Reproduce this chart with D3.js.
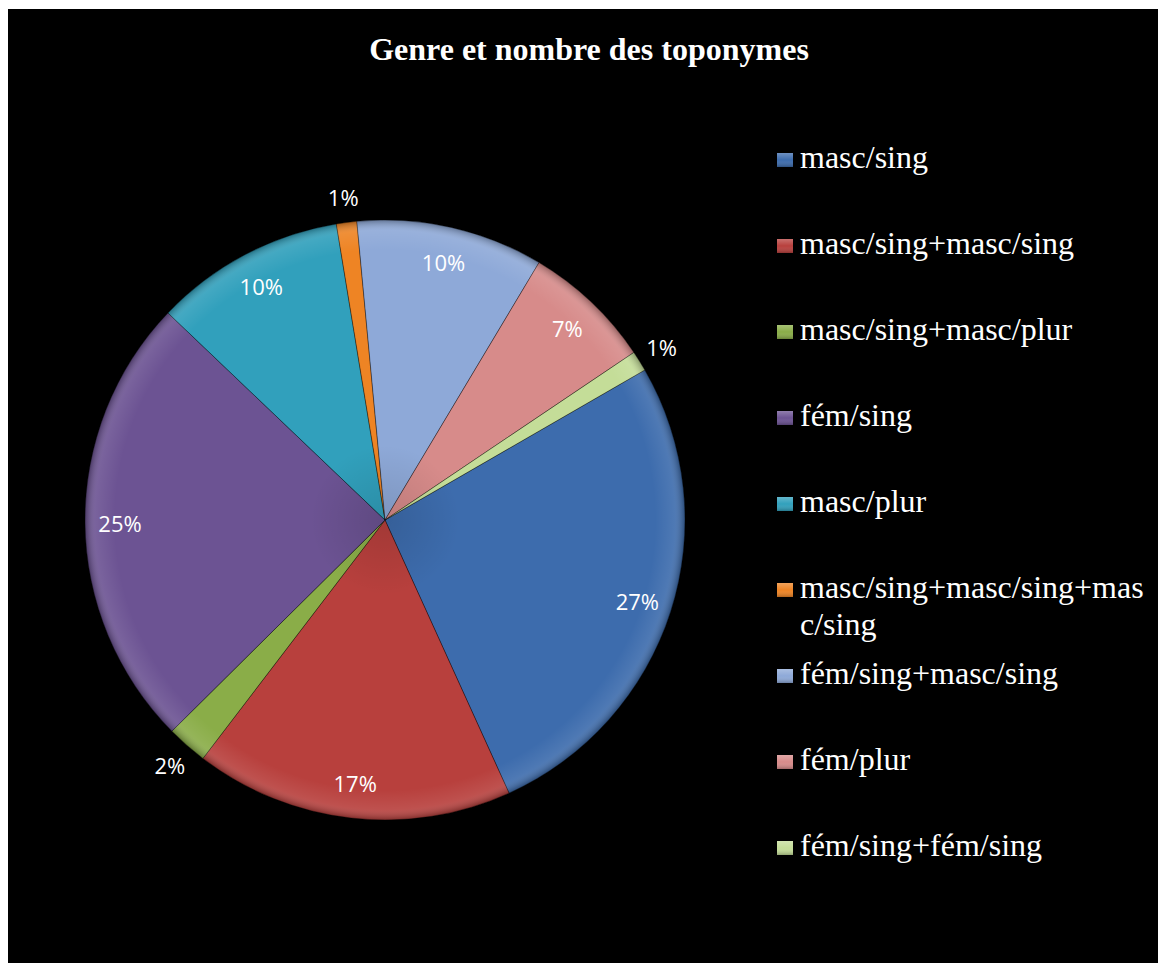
<!DOCTYPE html>
<html>
<head>
<meta charset="utf-8">
<script src="https://cdn.jsdelivr.net/npm/d3@7"></script>
<style>
  html, body { margin: 0; padding: 0; background: #ffffff; }
  svg { display: block; }
</style>
</head>
<body>
<script>
const title = "Genre et nombre des toponymes";
const categories = [
  "masc/sing",
  "masc/sing+masc/sing",
  "masc/sing+masc/plur",
  "fém/sing",
  "masc/plur",
  "masc/sing+masc/sing+masc/sing",
  "fém/sing+masc/sing",
  "fém/plur",
  "fém/sing+fém/sing"
];
const values = [26.6, 17.2, 2.2, 24.6, 10.3, 1.1, 10.1, 7.0, 1.1];
const colors = ["#3d6cad", "#b8403d", "#8aad48", "#6c5393", "#31a0bc", "#ee8424", "#8ea9d8", "#d78b8a", "#c4dd98"];
const legendLines = [
  ["masc/sing"],
  ["masc/sing+masc/sing"],
  ["masc/sing+masc/plur"],
  ["fém/sing"],
  ["masc/plur"],
  ["masc/sing+masc/sing+mas", "c/sing"],
  ["fém/sing+masc/sing"],
  ["fém/plur"],
  ["fém/sing+fém/sing"]
];

const W = 1158, H = 963;
const svg = d3.select("body").append("svg").attr("width", W).attr("height", H);
svg.append("rect").attr("x", 8).attr("y", 9).attr("width", W - 8).attr("height", H - 9).attr("fill", "#000");

svg.append("text").attr("x", 589).attr("y", 60).attr("text-anchor", "middle")
  .attr("font-family", "Liberation Serif, 'Times New Roman', serif").attr("font-weight", "bold")
  .attr("font-size", 32).attr("fill", "#fff").text(title);

const cx = 385, cy = 520, R = 300;
const defs = svg.append("defs");
const rl = defs.append("radialGradient").attr("id", "rimLocal").attr("gradientUnits", "userSpaceOnUse")
  .attr("cx", 0).attr("cy", 0).attr("r", R);
[[0, "#000", 0.12], [0.25, "#000", 0], [0.9, "#fff", 0], [0.965, "#fff", 0.09], [1, "#000", 0.3]]
  .forEach(s => rl.append("stop").attr("offset", s[0]).attr("stop-color", s[1]).attr("stop-opacity", s[2]));

const pie = d3.pie().value(d => d).sort(null)
  .startAngle(60 * Math.PI / 180).endAngle(60 * Math.PI / 180 + 2 * Math.PI);
const arcs = pie(values);
const arc = d3.arc().innerRadius(0).outerRadius(R);
const g = svg.append("g").attr("transform", `translate(${cx},${cy})`);
g.selectAll("path.slice").data(arcs).enter().append("path").attr("class", "slice")
  .attr("d", arc).attr("fill", (d, i) => colors[i])
  .attr("stroke", "rgba(0,0,0,0.35)").attr("stroke-width", 1);
g.selectAll("path.shade").data(arcs).enter().append("path").attr("class", "shade")
  .attr("d", arc).attr("fill", "url(#rimLocal)");

const total = d3.sum(values);
const labelFont = "'Open Sans', 'Noto Sans', sans-serif";
g.selectAll("text.lbl").data(arcs).enter().append("text").attr("class", "lbl")
  .each(function(d) {
    const pct = (d.data / total) * 100;
    const mid = (d.startAngle + d.endAngle) / 2;
    const r = pct < 3 ? 326 : 265;
    d3.select(this).attr("x", r * Math.sin(mid)).attr("y", -r * Math.cos(mid));
  })
  .attr("text-anchor", "middle").attr("dominant-baseline", "central")
  .attr("font-family", labelFont).attr("font-size", 22).attr("fill", "#fff")
  .text(d => Math.round(d.data / total * 100) + "%");

const legend = svg.append("g");
const lx = 777, ly0 = 168, lstep = 86;
const mg = defs.append("linearGradient").attr("id", "mk").attr("x1", 0).attr("y1", 0).attr("x2", 0).attr("y2", 1);
mg.append("stop").attr("offset", 0).attr("stop-color", "#fff").attr("stop-opacity", 0.25);
mg.append("stop").attr("offset", 0.5).attr("stop-color", "#fff").attr("stop-opacity", 0);
mg.append("stop").attr("offset", 1).attr("stop-color", "#000").attr("stop-opacity", 0.25);
categories.forEach((c, i) => {
  const y = ly0 + i * lstep;
  legend.append("rect").attr("x", lx).attr("y", y - 15).attr("width", 16).attr("height", 14).attr("fill", colors[i]);
  legend.append("rect").attr("x", lx).attr("y", y - 15).attr("width", 16).attr("height", 14).attr("fill", "url(#mk)");
  const t = legend.append("text").attr("x", 800).attr("y", y)
    .attr("font-family", "Liberation Serif, 'Times New Roman', serif").attr("font-size", 32).attr("fill", "#fff");
  legendLines[i].forEach((ln, k) => {
    t.append("tspan").attr("x", 800).attr("y", y + k * 37).text(ln);
  });
});
</script>
</body>
</html>
